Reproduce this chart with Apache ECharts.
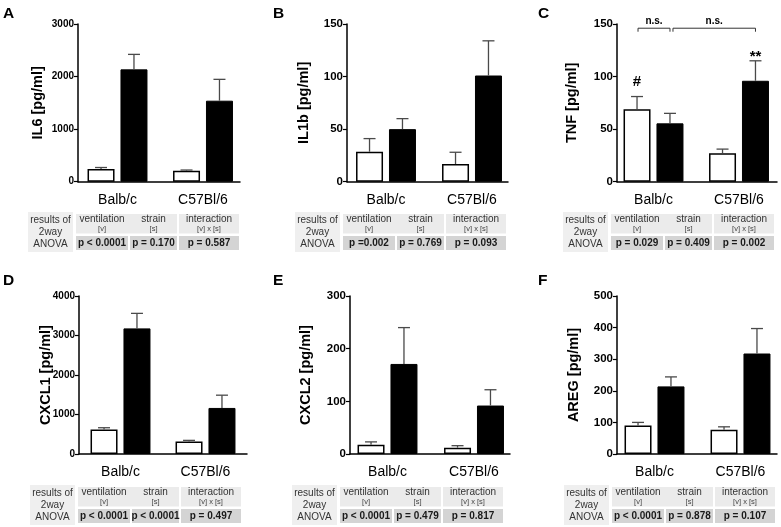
<!DOCTYPE html>
<html><head><meta charset="utf-8">
<script src="https://cdn.jsdelivr.net/npm/echarts@6/dist/echarts.min.js"></script>
<style>html,body{margin:0;padding:0;background:#fff}#c{width:781px;height:527px}</style>
</head><body><div id="c"></div>
<script>
// ---------- data ----------
const categories = ['Balb/c', 'C57Bl/6'];
const panelLetters = ['A', 'B', 'C', 'D', 'E', 'F'];
const yTitles = ['IL6 [pg/ml]', 'IL1b [pg/ml]', 'TNF [pg/ml]', 'CXCL1 [pg/ml]', 'CXCL2 [pg/ml]', 'AREG [pg/ml]'];
const yMax = [3000, 150, 150, 4000, 300, 500];
const yStep = [1000, 50, 50, 1000, 100, 100];

// white bars = control, black bars = ventilated; *Up = mean + SEM
const il6Ctrl = [241, 209],   il6CtrlUp = [270, 222],   il6Vent = [2137, 1541],  il6VentUp = [2422, 1947];
const il1bCtrl = [28.5, 16.8], il1bCtrlUp = [41, 28],   il1bVent = [50, 101],    il1bVentUp = [60, 134];
const tnfCtrl = [69, 27],     tnfCtrlUp = [81, 31],     tnfVent = [55.5, 96],    tnfVentUp = [65, 115];
const cxcl1Ctrl = [620, 315], cxcl1CtrlUp = [665, 345], cxcl1Vent = [3180, 1166], cxcl1VentUp = [3560, 1489];
const cxcl2Ctrl = [17.5, 12], cxcl2CtrlUp = [23, 15.8], cxcl2Vent = [171, 92],   cxcl2VentUp = [240, 122];
const aregCtrl = [90, 77],    aregCtrlUp = [100, 86],   aregVent = [214, 318],   aregVentUp = [244, 397];

const anovaHeads = [['ventilation', '[v]'], ['strain', '[s]'], ['interaction', '[v] x [s]']];
const anovaLeft = ['results of', '2way', 'ANOVA'];
const anovaIL6 = ['p < 0.0001', 'p = 0.170', 'p = 0.587'];
const anovaIL1b = ['p =0.002', 'p = 0.769', 'p = 0.093'];
const anovaTNF = ['p = 0.029', 'p = 0.409', 'p = 0.002'];
const anovaCXCL1 = ['p < 0.0001', 'p < 0.0001', 'p = 0.497'];
const anovaCXCL2 = ['p < 0.0001', 'p = 0.479', 'p = 0.817'];
const anovaAREG = ['p < 0.0001', 'p = 0.878', 'p = 0.107'];

// TNF annotations: [category, series (0 ctrl,1 vent), value, text]
const tnfMarks = [[0, 0, 94.5, '#'], [1, 1, 119, '**']];
// brackets: [cat A, series A, cat B, series B, level, text]
const tnfBrackets = [[0, 0, 0, 1, 146, 'n.s.'], [0, 1, 1, 1, 146, 'n.s.']];

const panels = [
  {ctrl: il6Ctrl, ctrlUp: il6CtrlUp, vent: il6Vent, ventUp: il6VentUp, anova: anovaIL6},
  {ctrl: il1bCtrl, ctrlUp: il1bCtrlUp, vent: il1bVent, ventUp: il1bVentUp, anova: anovaIL1b},
  {ctrl: tnfCtrl, ctrlUp: tnfCtrlUp, vent: tnfVent, ventUp: tnfVentUp, anova: anovaTNF},
  {ctrl: cxcl1Ctrl, ctrlUp: cxcl1CtrlUp, vent: cxcl1Vent, ventUp: cxcl1VentUp, anova: anovaCXCL1},
  {ctrl: cxcl2Ctrl, ctrlUp: cxcl2CtrlUp, vent: cxcl2Vent, ventUp: cxcl2VentUp, anova: anovaCXCL2},
  {ctrl: aregCtrl, ctrlUp: aregCtrlUp, vent: aregVent, ventUp: aregVentUp, anova: anovaAREG}
];

// ---------- layout ----------
const FONT = '"Liberation Sans", Arial, Helvetica, sans-serif';
const frameLeft = [78, 347, 617, 79, 350, 617];
const frameRight = [240, 508, 777, 247, 510, 777];
const barLeft = [74.75, 343, 610.75, 78, 344.25, 611.5];
const barBand = [85.5, 86, 85.5, 85, 86.5, 86];
const plotTop = [24, 24, 24, 296, 296, 296];
const plotBottom = [181.7, 181.7, 181.7, 454, 454, 454];
const nameGaps = [33, 36, 38, 26, 37, 36];
const tickFont = [10, 11.5, 11.5, 10, 11.5, 11.5];
const letterX = [3, 273, 538, 3, 273, 538];
const letterY = [13.5, 13.5, 13.5, 280.5, 280.5, 280.5];
const tableLeft = [28, 295, 563, 30, 292, 564];
const tableTop = [214, 214, 214, 487, 487, 487];
const BAR_W = 27, BAR_GAP = 0.22;
const HALF_SPAN = (BAR_W + BAR_W * BAR_GAP) / 2;

function errSeries(gi, mean, upper, dx) {
  return {
    type: 'custom', xAxisIndex: gi, yAxisIndex: gi, z: 3, animation: false, silent: true,
    data: mean.map((m, k) => [k, m, upper[k]]),
    encode: {x: 0, y: [1, 2]},
    renderItem: (params, api) => {
      const base = api.coord([api.value(0), api.value(1)]);
      const tip = api.coord([api.value(0), api.value(2)]);
      const x = base[0] + dx;
      const st = {stroke: '#4a4a4a', lineWidth: 1.3};
      return {type: 'group', children: [
        {type: 'line', shape: {x1: x, y1: base[1], x2: x, y2: tip[1]}, style: st},
        {type: 'line', shape: {x1: x - 6, y1: tip[1], x2: x + 6, y2: tip[1]}, style: st}
      ]};
    }
  };
}

const grids = [], xAxes = [], yAxes = [], series = [];
panels.forEach((p, i) => {
  const top = plotTop[i], h = plotBottom[i] - plotTop[i];
  const fi = 2 * i, bi = 2 * i + 1;
  grids.push({left: frameLeft[i], top: top, width: frameRight[i] - frameLeft[i], height: h, containLabel: false, outerBoundsMode: 'none'});
  grids.push({left: barLeft[i], top: top, width: 2 * barBand[i], height: h, containLabel: false, outerBoundsMode: 'none'});
  xAxes.push({gridIndex: fi, type: 'category', data: categories,
    axisLine: {show: true, onZero: false, lineStyle: {color: '#000', width: 1.5}},
    axisTick: {show: false}, axisLabel: {show: false}, splitLine: {show: false}});
  xAxes.push({gridIndex: bi, type: 'category', data: categories,
    axisLine: {show: false}, axisTick: {show: false}, splitLine: {show: false},
    axisLabel: {show: true, color: '#000', fontFamily: FONT, fontSize: 14, margin: 11}});
  yAxes.push({gridIndex: fi, type: 'value', min: 0, max: yMax[i], interval: yStep[i],
    name: yTitles[i], nameLocation: 'middle', nameGap: nameGaps[i], nameRotate: 90, nameMoveOverlap: false,
    nameTextStyle: {fontFamily: FONT, fontWeight: 'bold', fontSize: 14.5, color: '#000'},
    axisLine: {show: true, lineStyle: {color: '#000', width: 1.5}},
    axisTick: {show: true, inside: false, length: 4, lineStyle: {color: '#000', width: 1.2}},
    axisLabel: {show: true, color: '#000', fontFamily: FONT, fontWeight: 'bold', fontSize: tickFont[i], margin: 4,
      formatter: v => String(v)},
    splitLine: {show: false}});
  yAxes.push({gridIndex: bi, type: 'value', min: 0, max: yMax[i], interval: yStep[i], show: false, splitLine: {show: false}});
  series.push({type: 'bar', xAxisIndex: bi, yAxisIndex: bi, data: p.ctrl, barWidth: BAR_W, barGap: (BAR_GAP * 100) + '%',
    itemStyle: {color: '#fff', borderColor: '#000', borderWidth: 1.5}, z: 2, animation: false, silent: true});
  series.push({type: 'bar', xAxisIndex: bi, yAxisIndex: bi, data: p.vent, barWidth: BAR_W, barGap: (BAR_GAP * 100) + '%',
    itemStyle: {color: '#000', borderColor: '#000', borderWidth: 1}, z: 2, animation: false, silent: true});
  series.push(errSeries(bi, p.ctrl, p.ctrlUp, -HALF_SPAN));
  series.push(errSeries(bi, p.vent, p.ventUp, HALF_SPAN));
});

const chart = echarts.init(document.getElementById('c'), null, {renderer: 'canvas'});
chart.setOption({
  animation: false, backgroundColor: '#fff',
  textStyle: {fontFamily: FONT},
  grid: grids, xAxis: xAxes, yAxis: yAxes, series: series
});

// ---------- graphics: letters, tables, annotations ----------
const els = [];
function txt(x, y, text, size, weight, color, align, valign) {
  els.push({type: 'text', z: 10, silent: true, style: {x: x, y: y, text: text, fontFamily: FONT, fontSize: size,
    fontWeight: weight || 'normal', fill: color || '#000', align: align || 'center', verticalAlign: valign || 'middle'}});
}
function rect(x, y, w, h, fill) {
  els.push({type: 'rect', z: 5, silent: true, shape: {x: x, y: y, width: w, height: h}, style: {fill: fill}});
}
panels.forEach((p, i) => {
  txt(letterX[i], letterY[i], panelLetters[i], 15.5, 'bold', '#000', 'left', 'middle');
  const L = tableLeft[i], T = tableTop[i];
  rect(L, T - 2, 45, 40, '#efefef');
  anovaLeft.forEach((s, k) => txt(L + 22.5, T + [6, 18, 30.5][k], s, 10, 'normal', '#333'));
  rect(L + 48, T, 101, 19.5, '#ebebeb');
  rect(L + 151, T, 60, 19.5, '#ebebeb');
  const cx = [L + 74, L + 125.5, L + 181];
  const cw = [[L + 48, 52], [L + 102, 47], [L + 151, 60]];
  cw.forEach(c => rect(c[0], T + 22, c[1], 14, '#d4d4d4'));
  anovaHeads.forEach((hd, k) => {
    txt(cx[k], T + 5.5, hd[0], 10, 'normal', '#333');
    txt(cx[k], T + 14.5, hd[1], 7.5, 'normal', '#444');
    txt(cx[k], T + 29.3, p.anova[k], 10, 'bold', '#1a1a1a');
  });
});
// TNF panel annotations
const tnfGrid = 2 * 2 + 1;
function barPx(cat, s, v) {
  const pt = chart.convertToPixel({xAxisIndex: tnfGrid, yAxisIndex: tnfGrid}, [cat, v]);
  return [pt[0] + (s ? HALF_SPAN : -HALF_SPAN), pt[1]];
}
tnfMarks.forEach(m => {
  const pt = barPx(m[0], m[1], m[2]);
  txt(pt[0], pt[1], m[3], 15, 'bold', '#000');
});
tnfBrackets.forEach((b, k) => {
  const a = barPx(b[0], b[1], b[4]);
  const c = barPx(b[2], b[3], b[4]);
  const x1 = a[0] + (k === 1 ? 3 : 1), x2 = c[0], y = a[1];
  els.push({type: 'polyline', z: 10, silent: true, shape: {points: [[x1, y + 3.5], [x1, y], [x2, y], [x2, y + 3.5]]},
    style: {stroke: '#333', lineWidth: 1, fill: null}});
  txt((x1 + x2) / 2, y - 7, b[5], 10, 'bold', '#000');
});
chart.setOption({graphic: {elements: els}});
</script>
</body></html>
